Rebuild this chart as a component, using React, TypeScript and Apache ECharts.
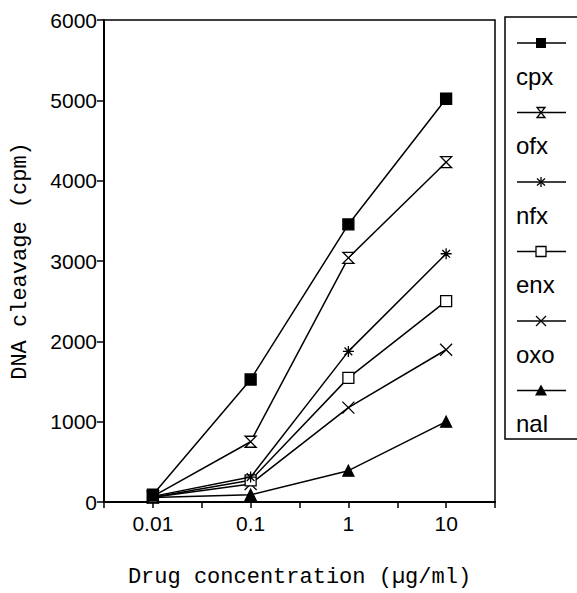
import React, { useEffect, useRef } from "react";
import * as echarts from "echarts";

// ---- data ----
const concentrations = [0.01, 0.1, 1, 10];
const seriesNames = ["cpx", "ofx", "nfx", "enx", "oxo", "nal"];
const cpx = [90, 1525, 3455, 5020];
const ofx = [70, 750, 3040, 4230];
const nfx = [70, 310, 1875, 3090];
const enx = [60, 270, 1545, 2500];
const oxo = [60, 225, 1175, 1895];
const nal = [55, 90, 390, 1000];
const seriesValues = [cpx, ofx, nfx, enx, oxo, nal];
const yTicks = [0, 1000, 2000, 3000, 4000, 5000, 6000];
const xTickLabels: Record<string, string> = { "-2": "0.01", "-1": "0.1", "0": "1", "1": "10" };

// ---- symbols ----
const HOURGLASS = "path://M0,0 L10,0 L0,10 L10,10 Z";
const ASTERISK = "path://M5,0 L5,10 M0,5 L10,5 M1.5,1.5 L8.5,8.5 M8.5,1.5 L1.5,8.5";
const CROSS = "path://M0,0 L10,10 M10,0 L0,10";

const symbolStyles = [
  { symbol: "rect", size: 11, fill: "#000" },
  { symbol: HOURGLASS, size: 11, fill: "#fff" },
  { symbol: ASTERISK, size: 11, fill: "#fff" },
  { symbol: "rect", size: 11, fill: "#fff" },
  { symbol: CROSS, size: 12, fill: "#fff" },
  { symbol: "triangle", size: 11, fill: "#000" },
];

function legendSymbol(i: number, cx: number, cy: number): any[] {
  const st = { stroke: "#000", lineWidth: 1.3 };
  switch (i) {
    case 0:
      return [{ type: "rect", shape: { x: cx - 5, y: cy - 5, width: 10, height: 10 }, style: { fill: "#000" } }];
    case 1:
      return [{ type: "polygon", shape: { points: [[cx - 4, cy - 5], [cx + 4, cy - 5], [cx - 4, cy + 5], [cx + 4, cy + 5]] }, style: { fill: "#fff", ...st } }];
    case 2:
      return [
        { type: "line", shape: { x1: cx, y1: cy - 5, x2: cx, y2: cy + 5 }, style: st },
        { type: "line", shape: { x1: cx - 4, y1: cy - 3.5, x2: cx + 4, y2: cy + 3.5 }, style: st },
        { type: "line", shape: { x1: cx + 4, y1: cy - 3.5, x2: cx - 4, y2: cy + 3.5 }, style: st },
      ];
    case 3:
      return [{ type: "rect", shape: { x: cx - 5, y: cy - 5, width: 10, height: 10 }, style: { fill: "#fff", ...st } }];
    case 4:
      return [
        { type: "line", shape: { x1: cx - 5, y1: cy - 5, x2: cx + 5, y2: cy + 5 }, style: st },
        { type: "line", shape: { x1: cx + 5, y1: cy - 5, x2: cx - 5, y2: cy + 5 }, style: st },
      ];
    default:
      return [{ type: "polygon", shape: { points: [[cx, cy - 6], [cx + 6, cy + 5], [cx - 6, cy + 5]] }, style: { fill: "#000" } }];
  }
}

export default function App() {
  const ref = useRef<HTMLDivElement>(null);
  useEffect(() => {
    if (!ref.current) return;
    const chart = echarts.init(ref.current, null, { renderer: "svg" });

    const series = seriesNames.map((name, i) => ({
      name,
      type: "line",
      data: concentrations.map((c, j) => [Math.log10(c), seriesValues[i][j]]),
      symbol: symbolStyles[i].symbol,
      symbolSize: symbolStyles[i].size,
      showAllSymbol: true,
      lineStyle: { color: "#000", width: 1.5 },
      itemStyle: { color: symbolStyles[i].fill, borderColor: "#000", borderWidth: 1.3 },
      emphasis: { disabled: true },
      z: 10 - i,
    }));

    const legendX = 505;
    const legendTop = 17;
    const step = 69.5;
    const legendEls: any[] = [
      {
        type: "rect",
        shape: { x: legendX, y: legendTop, width: 90, height: 422 },
        style: { fill: "none", stroke: "#000", lineWidth: 1.5 },
      },
    ];
    seriesNames.forEach((name, i) => {
      const sy = 43 + step * i;
      legendEls.push({
        type: "line",
        shape: { x1: 517, y1: sy, x2: 566, y2: sy },
        style: { stroke: "#000", lineWidth: 1.5 },
      });
      legendEls.push(...legendSymbol(i, 541, sy));
      legendEls.push({
        type: "text",
        style: {
          text: name,
          x: 516,
          y: sy + 33,
          fill: "#000",
          font: "24px 'Liberation Sans', Arial, sans-serif",
          verticalAlign: "middle",
          align: "left",
        },
      });
    });

    chart.setOption({
      animation: false,
      backgroundColor: "#fff",
      grid: {
        left: 104,
        right: 82,
        top: 20,
        bottom: 88,
        show: true,
        borderColor: "#000",
        borderWidth: 1.5,
      },
      xAxis: {
        type: "value",
        min: -2.5,
        max: 1.5,
        interval: 0.5,
        name: "Drug concentration (µg/ml)",
        nameLocation: "middle",
        nameGap: 64,
        nameTextStyle: { fontFamily: "'Liberation Mono', 'Courier New', monospace", fontSize: 22, color: "#000" },
        axisLine: { show: true, onZero: false, lineStyle: { color: "#000", width: 2 } },
        axisTick: { show: true, inside: false, length: 6, lineStyle: { color: "#000", width: 1.5 } },
        axisLabel: {
          formatter: (v: number) => xTickLabels[String(Math.round(v * 10) / 10)] ?? "",
          fontFamily: "'Liberation Sans', Arial, sans-serif",
          fontSize: 21,
          color: "#000",
          margin: 11,
          showMinLabel: true,
          showMaxLabel: true,
        },
        splitLine: { show: false },
      },
      yAxis: {
        type: "value",
        min: yTicks[0],
        max: yTicks[yTicks.length - 1],
        interval: 1000,
        name: "DNA cleavage (cpm)",
        nameLocation: "middle",
        nameGap: 73,
        nameTextStyle: {
          fontFamily: "'Liberation Mono', 'Courier New', monospace",
          fontSize: 22,
          color: "#000",
        },
        axisLine: { show: true, onZero: false, lineStyle: { color: "#000", width: 2 } },
        axisTick: { show: true, inside: false, length: 7, lineStyle: { color: "#000", width: 1.5 } },
        axisLabel: {
          formatter: (v: number) => String(v),
          fontFamily: "'Liberation Sans', Arial, sans-serif",
          fontSize: 21,
          color: "#000",
          margin: 7,
        },
        splitLine: { show: false },
      },
      series,
      graphic: legendEls,
    });
    return () => chart.dispose();
  }, []);
  return <div ref={ref} style={{ position: "fixed", left: 0, top: 0, width: 577, height: 593 }} />;
}
